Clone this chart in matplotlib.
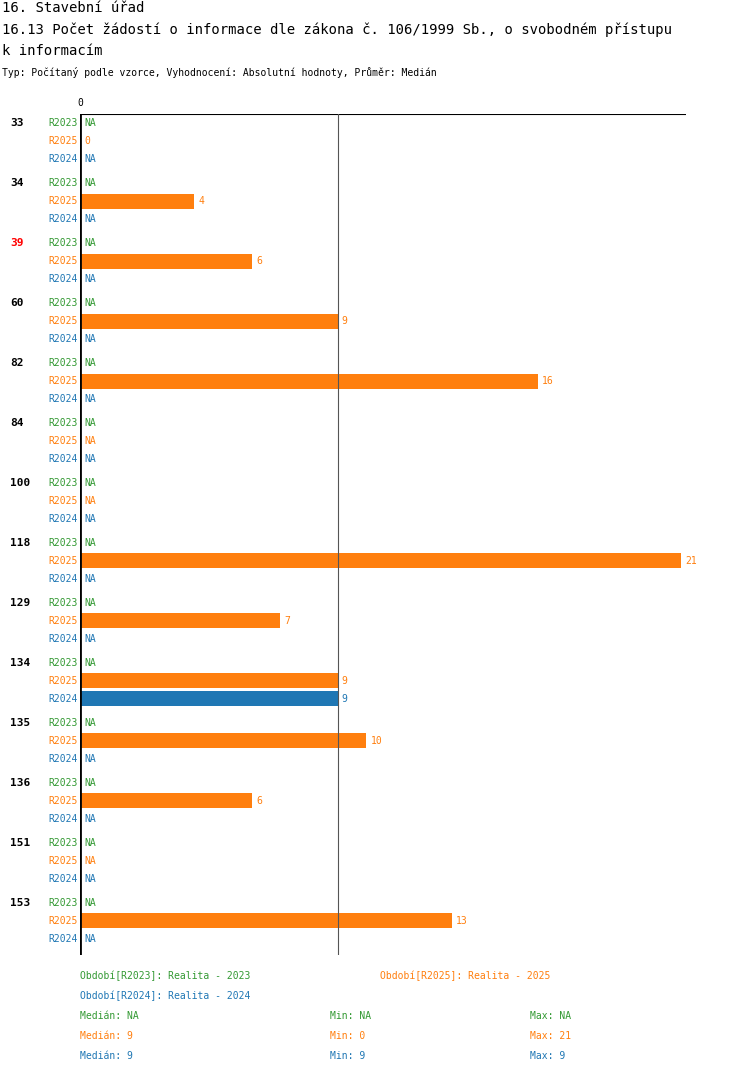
import numpy as np
import matplotlib.pyplot as plt

groups = ["33", "34", "39", "60", "82", "84", "100", "118", "129", "134", "135", "136", "151", "153"]
red_groups = ["39"]
periods = ["R2023", "R2025", "R2024"]
# None = NA
r2023 = [None] * 14
r2025 = [0, 4, 6, 9, 16, None, None, 21, 7, 9, 10, 6, None, 13]
r2024 = [None, None, None, None, None, None, None, None, None, 9, None, None, None, None]
median_line = 9

colors = {"R2023": "#339933", "R2025": "#ff7f0e", "R2024": "#1f77b4"}
W, H = 750, 1074
mono = "DejaVu Sans Mono"

fig = plt.figure(figsize=(W / 100, H / 100), dpi=100)

def fx(px):
    return px / W

def fy(py):
    return 1 - py / H

# axes area in pixels: x 80..686, y 114..955
x0, x1, y0, y1 = 80, 686, 114, 955
ax = fig.add_axes([fx(x0), fy(y1), fx(x1) - fx(x0), fy(y0) - fy(y1)])
ax.set_xlim(0, 21 * (x1 - x0) / 601)
ax.set_ylim(y1, y0)
ax.axis("off")
ax.plot([0, ax.get_xlim()[1]], [y0, y0], color="black", lw=0.8)
ax.plot([0, 0], [y0, y1], color="black", lw=2)
ax.plot([median_line, median_line], [y0, y1], color="#555555", lw=0.8)
fig.text(fx(80), fy(103), "0", family=mono, fontsize=7, ha="center", va="center")

series = {"R2023": r2023, "R2025": r2025, "R2024": r2024}
for g, name in enumerate(groups):
    gy = 123 + g * 60
    fig.text(fx(10), fy(gy), name, family=mono, fontsize=8, fontweight="bold",
             color="red" if name in red_groups else "black", va="center")
    for k, p in enumerate(periods):
        y = gy + k * 18
        c = colors[p]
        fig.text(fx(78), fy(y), p, family=mono, fontsize=7, color=c, ha="right", va="center")
        v = series[p][g]
        if v is None:
            ax.text(0.15, y, "NA", family=mono, fontsize=7, color=c, va="center")
        else:
            ax.barh(y, v, height=15, left=0, color=c)
            ax.text(v + 0.15, y, str(v), family=mono, fontsize=7, color=c, va="center")

fig.text(fx(2), fy(8), "16. Stavební úřad", family=mono, fontsize=10, va="center")
fig.text(fx(2), fy(30), "16.13 Počet žádostí o informace dle zákona č. 106/1999 Sb., o svobodném přístupu",
         family=mono, fontsize=10, va="center")
fig.text(fx(2), fy(51), "k informacím", family=mono, fontsize=10, va="center")
fig.text(fx(2), fy(73), "Typ: Počítaný podle vzorce, Vyhodnocení: Absolutní hodnoty, Průměr: Medián",
         family=mono, fontsize=7, va="center")

leg = [
    (80, 976, "Období[R2023]: Realita - 2023", "R2023"),
    (380, 976, "Období[R2025]: Realita - 2025", "R2025"),
    (80, 996, "Období[R2024]: Realita - 2024", "R2024"),
]
for x, y, t, p in leg:
    fig.text(fx(x), fy(y), t, family=mono, fontsize=7, color=colors[p], va="center")

stats = [("R2023", "NA", "NA", "NA"), ("R2025", "9", "0", "21"), ("R2024", "9", "9", "9")]
for i, (p, med, mn, mx) in enumerate(stats):
    y = 1016 + i * 20
    c = colors[p]
    fig.text(fx(80), fy(y), "Medián: " + med, family=mono, fontsize=7, color=c, va="center")
    fig.text(fx(330), fy(y), "Min: " + mn, family=mono, fontsize=7, color=c, va="center")
    fig.text(fx(530), fy(y), "Max: " + mx, family=mono, fontsize=7, color=c, va="center")

fig.savefig("out.png", dpi=100)
